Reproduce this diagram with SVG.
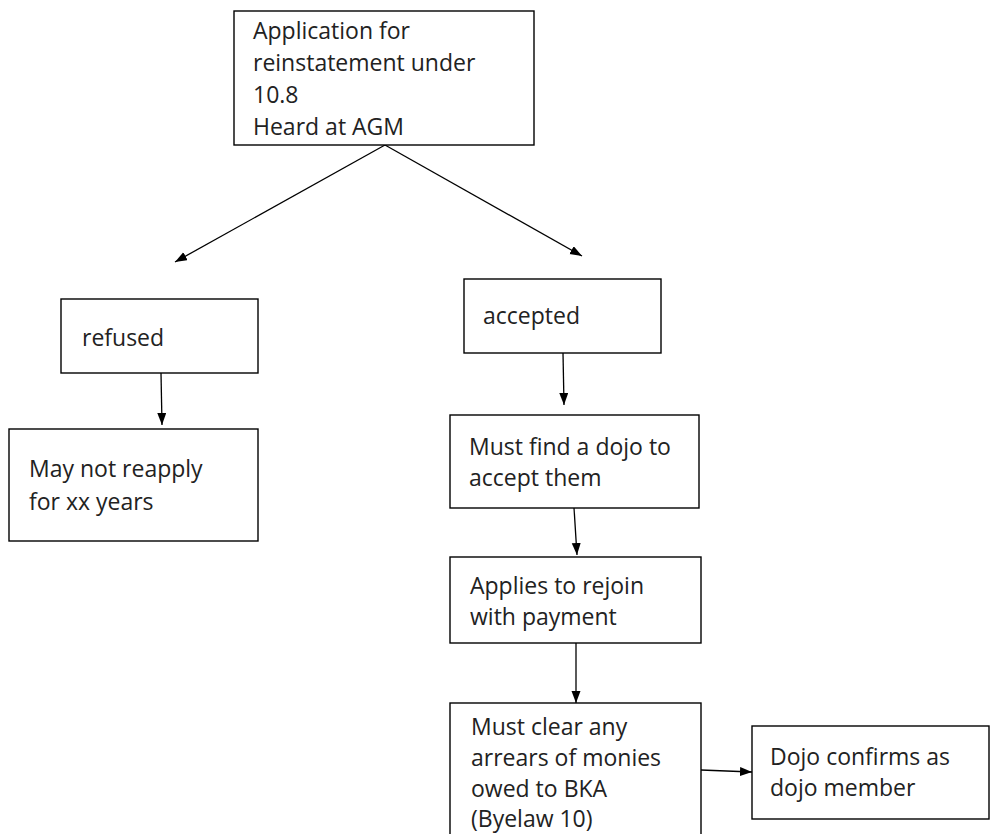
<svg xmlns="http://www.w3.org/2000/svg" width="990" height="834" viewBox="0 0 990 834">
<defs>
<marker id="arr" markerUnits="userSpaceOnUse" markerWidth="14" markerHeight="10" refX="12" refY="4.5" orient="auto">
<path d="M0,0 L12,4.5 L0,9 Z" fill="#000"/>
</marker>
<style>
.box{fill:#fff;stroke:#000;stroke-width:1.4}
.t{font-family:"Open Sans","Liberation Sans",sans-serif;font-size:23px;fill:#222}
.c{fill:none;stroke:#000;stroke-width:1.3;marker-end:url(#arr)}
</style>
</defs>
<rect width="990" height="834" fill="#fff"/>
<g id="connectors">
<path class="c" d="M385,145 L175,262"/>
<path class="c" d="M385,145 L582,256"/>
<path class="c" d="M161,373 L162,425"/>
<path class="c" d="M563,353 L564,405"/>
<path class="c" d="M574,508 L577,555"/>
<path class="c" d="M576,643 L576,703"/>
<path class="c" d="M701,770 L752,772"/>
</g>
<g id="application">
<rect class="box" x="234" y="11" width="300" height="134"/>
<text class="t" x="253" y="39">Application for</text>
<text class="t" x="253" y="71">reinstatement under</text>
<text class="t" x="253" y="103">10.8</text>
<text class="t" x="253" y="135">Heard at AGM</text>
</g>
<g id="refused">
<rect class="box" x="61" y="299" width="197" height="74"/>
<text class="t" x="82" y="346">refused</text>
</g>
<g id="may-not-reapply">
<rect class="box" x="9" y="429" width="249" height="112"/>
<text class="t" x="29" y="477">May not reapply</text>
<text class="t" x="29" y="510">for xx years</text>
</g>
<g id="accepted">
<rect class="box" x="464" y="279" width="197" height="74"/>
<text class="t" x="483" y="324">accepted</text>
</g>
<g id="find-dojo">
<rect class="box" x="450" y="415" width="249" height="93"/>
<text class="t" x="469" y="455">Must find a dojo to</text>
<text class="t" x="469" y="486">accept them</text>
</g>
<g id="applies">
<rect class="box" x="450" y="557" width="251" height="86"/>
<text class="t" x="470" y="594">Applies to rejoin</text>
<text class="t" x="470" y="625">with payment</text>
</g>
<g id="clear-arrears">
<rect class="box" x="450" y="703" width="251" height="150"/>
<text class="t" x="471" y="735">Must clear any</text>
<text class="t" x="471" y="766">arrears of monies</text>
<text class="t" x="471" y="797">owed to BKA</text>
<text class="t" x="471" y="827">(Byelaw 10)</text>
</g>
<g id="dojo-confirms">
<rect class="box" x="752" y="726" width="237" height="93"/>
<text class="t" x="770" y="765">Dojo confirms as</text>
<text class="t" x="770" y="796">dojo member</text>
</g>
</svg>
